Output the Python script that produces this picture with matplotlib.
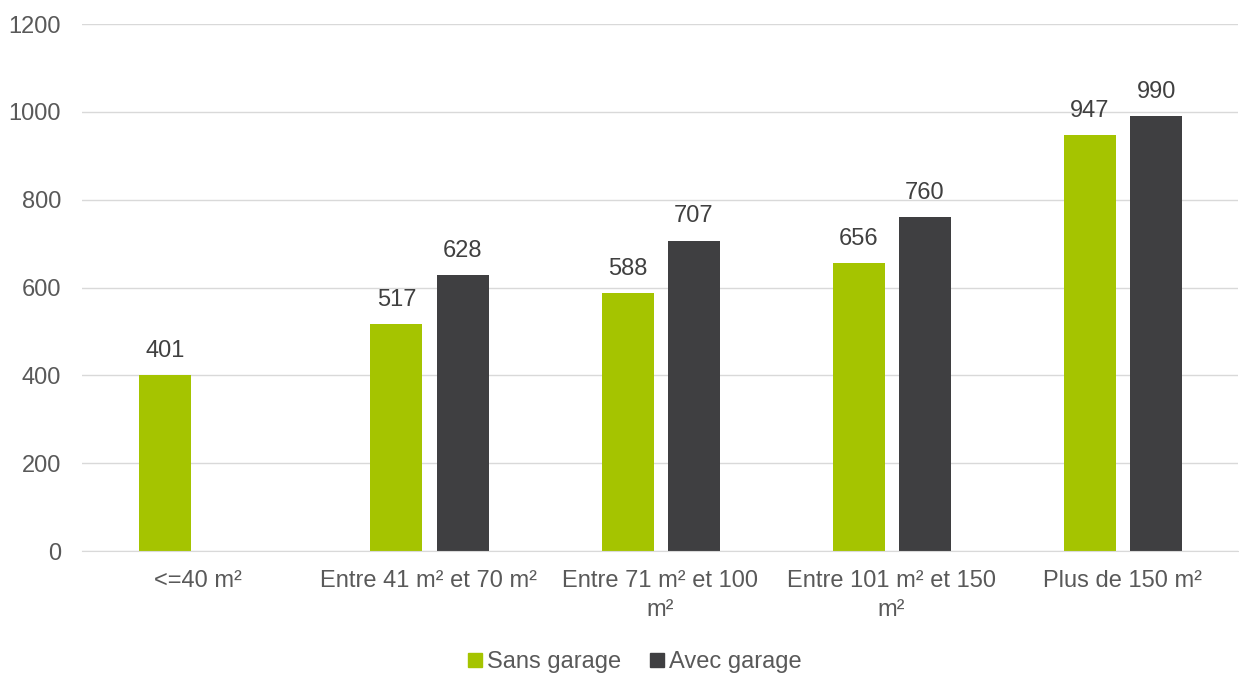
import matplotlib
matplotlib.use("Agg")
import matplotlib.pyplot as plt
import numpy as np
from matplotlib.lines import Line2D

plt.rcParams['font.family'] = ['Liberation Sans', 'DejaVu Sans']

categories = ["<=40 m²", "Entre 41 m² et 70 m²", "Entre 71 m² et 100\nm²",
              "Entre 101 m² et 150\nm²", "Plus de 150 m²"]
sans_garage = [401, 517, 588, 656, 947]
avec_garage = [None, 628, 707, 760, 990]
series_names = ["Sans garage", "Avec garage"]
yticks = [0, 200, 400, 600, 800, 1000, 1200]

green = "#A5C400"
dark = "#3F3F41"
text_col = "#595959"
fs = 17

fig = plt.figure(figsize=(12.39, 6.75), dpi=100)
ax = fig.add_axes([0.0662, 0.1837, 0.933, 0.7807])

x = np.arange(len(categories))
w = 0.225
off = 0.143

for xi, v in zip(x, sans_garage):
    if v is not None:
        ax.bar(xi - off + 0.003, v, width=w, color=green, zorder=3)
        ax.text(xi - off + 0.003, v + 30, f"{v}", ha="center", va="bottom", fontsize=fs, color="#404040")
for xi, v in zip(x, avec_garage):
    if v is not None:
        ax.bar(xi + off + 0.003, v, width=w, color=dark, zorder=3)
        ax.text(xi + off + 0.003, v + 30, f"{v}", ha="center", va="bottom", fontsize=fs, color="#404040")

ax.set_xlim(-0.5, len(categories) - 0.5)
ax.set_ylim(0, 1200)
ax.set_yticks(yticks)
ax.set_yticklabels([str(t) for t in yticks])
ax.set_xticks(x)
ax.set_xticklabels(categories, linespacing=1.4)
ax.tick_params(axis="y", length=0, pad=15, labelsize=fs, labelcolor=text_col)
ax.tick_params(axis="x", length=0, pad=13.5, labelsize=fs, labelcolor=text_col)
ax.grid(axis="y", color="#D9D9D9", linewidth=1, zorder=0)
for s in ["top", "right", "left"]:
    ax.spines[s].set_visible(False)
ax.spines["bottom"].set_color("#D9D9D9")
ax.spines["bottom"].set_zorder(4)

handles = [Line2D([], [], marker="s", linestyle="none", markersize=9.4, color=green),
           Line2D([], [], marker="s", linestyle="none", markersize=9.4, color=dark)]
leg = fig.legend(handles, series_names, loc="center", bbox_to_anchor=(0.5115, 0.019),
                 ncol=2, frameon=False, fontsize=fs, handletextpad=0.13,
                 columnspacing=1.1, handlelength=0.8)
for t in leg.get_texts():
    t.set_color(text_col)

fig.savefig("out.png", dpi=100)
